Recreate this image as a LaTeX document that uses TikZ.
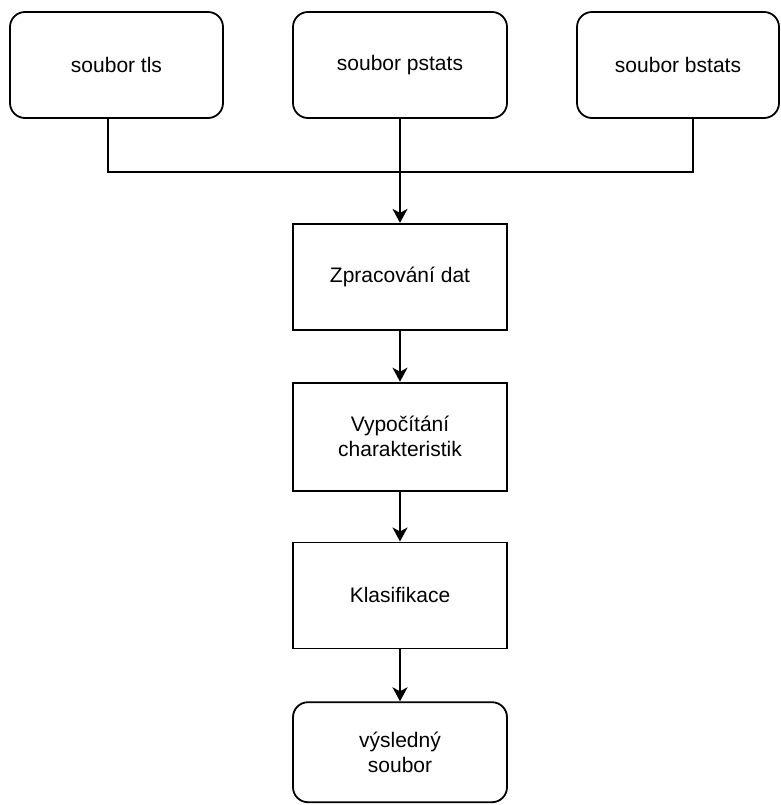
\documentclass[tikz,border=0pt]{standalone}
\usepackage{fontspec}
\setmainfont{Liberation Sans}
\usetikzlibrary{arrows.meta, positioning}

\begin{document}
\begin{tikzpicture}[
        x=1pt, y=-1pt,
        font=\fontsize{21}{25}\selectfont,
        line width=1.8pt,
        >={Stealth[length=14pt, width=15pt, inset=4pt]},
        filebox/.style={draw, rounded corners=15pt, align=center, minimum width=214pt, minimum height=106pt, fill=white, inner sep=3pt},
        stepbox/.style={draw, align=center, minimum width=214pt, minimum height=106pt, fill=white, inner sep=3pt}
    ]
        \useasboundingbox (0,0) rectangle (780,805);

        % --- Vstupni soubory ---
        \node[filebox] (pstats) at (400,65) {soubor pstats};
        \node[filebox, minimum width=213pt] (tls) at (116.5,65) {soubor tls};
        \node[filebox, minimum width=202pt] (bstats) at (678,65) {soubor bstats};

        \coordinate (join) at (400,172);
        \draw ([xshift=-8.5pt]tls.south) |- (join) -| ([xshift=15pt]bstats.south);

        % --- Zpracovani ---
        \node[stepbox, below=104pt of pstats] (proc) {Zpracování dat};
        \draw[->] (pstats) -- (proc);

        \node[stepbox, below=51pt of proc, minimum height=108pt] (feat) {Vypočítání\\charakteristik};
        \draw[->] (proc) -- (feat);

        \node[stepbox, below=50pt of feat] (classif) {Klasifikace};
        \draw[->] (feat) -- (classif);

        % --- Vysledek ---
        \node[filebox, below=52pt of classif, minimum height=100pt] (result) {výsledný\\soubor};
        \draw[->] (classif) -- (result);
    \end{tikzpicture}
\end{document}
